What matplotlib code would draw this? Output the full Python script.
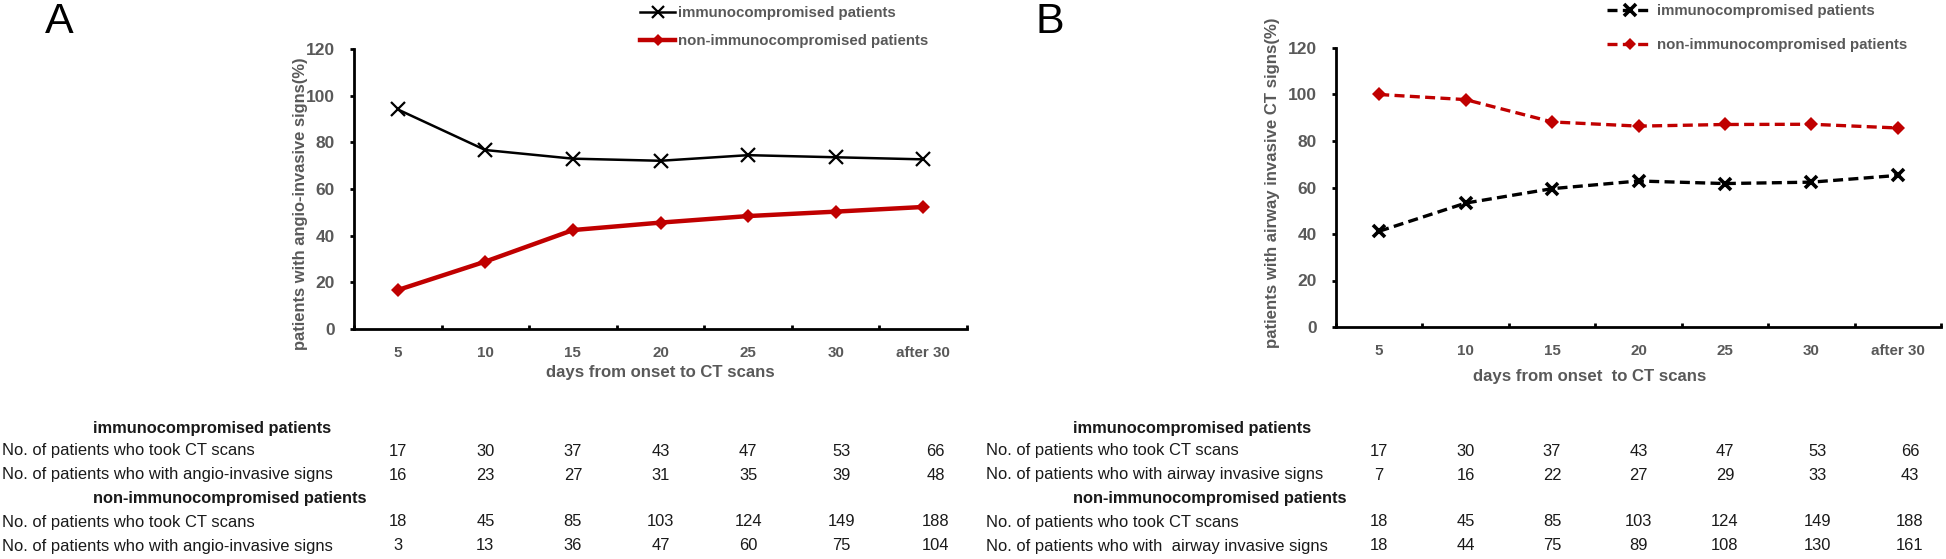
import numpy as np
import matplotlib
matplotlib.use("Agg")
import matplotlib.pyplot as plt
from matplotlib.transforms import blended_transform_factory

# ---------------- data ----------------
days = ['5', '10', '15', '20', '25', '30', 'after 30']

a_immuno = [94.1, 76.7, 73.0, 72.1, 74.5, 73.6, 72.7]
a_non = [16.7, 28.9, 42.4, 45.6, 48.4, 50.3, 52.3]
b_immuno = [41.2, 53.3, 59.5, 62.8, 61.7, 62.3, 65.2]
b_non = [100.0, 97.8, 88.2, 86.4, 87.1, 87.2, 85.6]

imm_scans = [17, 30, 37, 43, 47, 53, 66]
a_imm_signs = [16, 23, 27, 31, 35, 39, 48]
non_scans = [18, 45, 85, 103, 124, 149, 188]
a_non_signs = [3, 13, 36, 47, 60, 75, 104]
b_imm_signs = [7, 16, 22, 27, 29, 33, 43]
b_non_signs = [18, 44, 75, 89, 108, 130, 161]

series_names = ['immunocompromised patients', 'non-immunocompromised patients']
yticks = [0, 20, 40, 60, 80, 100, 120]

# ---------------- style ----------------
FONT = 'Liberation Sans'
GRAY = '#595959'
RED = '#C00000'
TXT = '#1a1a1a'
plt.rcParams['font.family'] = [FONT, 'DejaVu Sans']

W, H = 1946, 559
fig = plt.figure(figsize=(W / 100, H / 100), dpi=100)
R = fig.canvas.get_renderer()


def fx(px):
    return px / W


def fy(py):
    return 1 - py / H


def measure(s, size=10, weight='normal'):
    t = fig.text(0, 0, s, fontsize=size, weight=weight)
    w = t.get_window_extent(R).width
    t.remove()
    return w


def fitsize(s, target, weight='normal'):
    return 10 * target / measure(s, 10, weight)


tick_fs_x = fitsize('after 30', 54, 'bold')
tick_fs_y = fitsize('120', 29, 'bold')
leg_fs = fitsize(series_names[0], 218, 'bold')
row_fs = fitsize('No. of patients who with angio-invasive signs', 328)
head_fs = fitsize('immunocompromised patients', 239, 'bold')


def make_panel(rect, imm, non, dashed, ylabel, ylab_xy, ylab_len,
               xlabel, xlab_xy, xlab_len, letter, letter_xy,
               leg_anchor, leg_handle_px, leg_pad_px, leg_rowgap):
    ax = fig.add_axes(rect)
    x = np.arange(len(days))
    if dashed:
        l1, = ax.plot(x, imm, color='black', lw=2.4, dashes=(3, 1.6),
                      marker='x', ms=9, mew=2.6, label=series_names[0])
        l2, = ax.plot(x, non, color=RED, lw=2.4, dashes=(3, 1.6),
                      marker='D', ms=7, mew=0, label=series_names[1])
    else:
        l1, = ax.plot(x, imm, color='black', lw=1.8,
                      marker='x', ms=10, mew=1.6, label=series_names[0])
        l2, = ax.plot(x, non, color=RED, lw=3.2,
                      marker='D', ms=7, mew=0, label=series_names[1])
    ax.set_xlim(-0.5, len(days) - 0.5)
    ax.set_ylim(0, 120)
    ax.set_yticks(yticks)
    ax.set_yticklabels([str(v) for v in yticks])
    ax.set_xticks(np.arange(-0.5, len(days), 1))
    ax.set_xticklabels([])
    ax.set_xticks(x, minor=True)
    ax.set_xticklabels(days, minor=True)
    for s in ('top', 'right'):
        ax.spines[s].set_visible(False)
    for s in ('left', 'bottom'):
        ax.spines[s].set_linewidth(2.0)
    ax.tick_params(axis='y', direction='out', length=3, width=2,
                   labelsize=tick_fs_y, labelcolor=GRAY, pad=11)
    ax.tick_params(axis='x', which='major', direction='in', length=3, width=2)
    ax.tick_params(axis='x', which='minor', length=0, labelsize=tick_fs_x,
                   labelcolor=GRAY, pad=12)
    for lab in ax.get_yticklabels() + ax.get_xticklabels(minor=True):
        lab.set_fontweight('bold')
    ax.set_facecolor('none')

    # y label
    fig.text(fx(ylab_xy[0]), fy(ylab_xy[1]), ylabel, rotation=90,
             ha='center', va='center', color=GRAY, weight='bold',
             fontsize=fitsize(ylabel, ylab_len, 'bold'))
    # x label
    fig.text(fx(xlab_xy[0]), fy(xlab_xy[1]), xlabel, ha='center', va='center',
             color=GRAY, weight='bold',
             fontsize=fitsize(xlabel, xlab_len, 'bold'))
    # panel letter
    fig.text(fx(letter_xy[0]), fy(letter_xy[1]), letter, ha='center',
             va='center', fontsize=31, color='black')

    fpx = leg_fs * 100 / 72
    ax.legend(handles=[l1, l2], loc='upper left',
              bbox_to_anchor=(fx(leg_anchor[0]), fy(leg_anchor[1])),
              bbox_transform=fig.transFigure, frameon=False,
              handlelength=leg_handle_px / fpx, handletextpad=leg_pad_px / fpx,
              borderpad=0, borderaxespad=0, labelspacing=leg_rowgap,
              labelcolor=GRAY, prop={'weight': 'bold', 'size': leg_fs},
              markerscale=0.9)
    return ax


axA = make_panel([fx(354), fy(329), (967 - 354) / W, (329 - 49) / H],
                 a_immuno, a_non, False,
                 'patients with angio-invasive signs(%)', (301, 204), 295,
                 'days from onset to CT scans', (660, 372), 229,
                 'A', (59, 22), (640, 6), 35, 3, 0.93)
axB = make_panel([fx(1336), fy(327), (1941 - 1336) / W, (327 - 48) / H],
                 b_immuno, b_non, True,
                 'patients with airway invasive CT signs(%)', (1273, 183), 331,
                 'days from onset  to CT scans', (1590, 377), 234,
                 'B', (1050, 22), (1607, 4), 45, 5, 1.33)

# ---------------- tables ----------------
col_pos = [0, 1, 2, 3, 4, 5.07, 6.14]
row_y = [428, 451, 475, 499, 522, 546]


def make_table(ax, left_px, head_px, sign_label, sign_label2, imm_signs, non_signs):
    tr = blended_transform_factory(ax.transData, fig.transFigure)
    heads = {0: series_names[0], 3: series_names[1]}
    rows = {1: ('No. of patients who took CT scans', imm_scans),
            2: (sign_label, imm_signs),
            4: ('No. of patients who took CT scans', non_scans),
            5: (sign_label2, non_signs)}
    for i, yy in enumerate(row_y):
        if i in heads:
            fig.text(fx(head_px), fy(yy), heads[i], ha='left', va='center',
                     weight='bold', fontsize=head_fs, color=TXT)
        else:
            lab, vals = rows[i]
            fig.text(fx(left_px), fy(yy), lab, ha='left', va='center',
                     fontsize=row_fs, color=TXT)
            for cx, v in zip(col_pos, vals):
                fig.text(cx, fy(yy), str(v), transform=tr, ha='center',
                         va='center', fontsize=row_fs, color=TXT)


make_table(axA, 2, 93, 'No. of patients who with angio-invasive signs',
           'No. of patients who with angio-invasive signs', a_imm_signs, a_non_signs)
make_table(axB, 986, 1073, 'No. of patients who with airway invasive signs',
           'No. of patients who with  airway invasive signs', b_imm_signs, b_non_signs)

fig.savefig('out.png', dpi=100, facecolor='white')
